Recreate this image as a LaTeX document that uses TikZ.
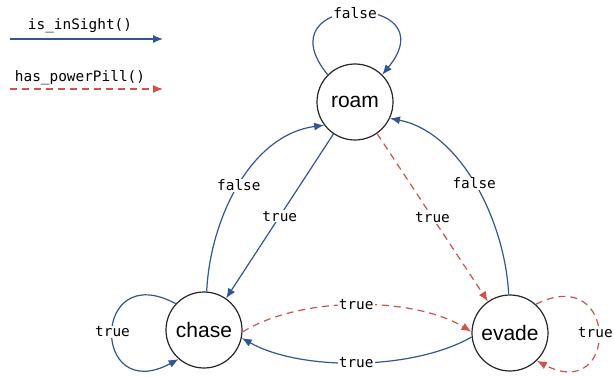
\documentclass[tikz,border=0pt]{standalone}
\usepackage{fontspec}
\setmainfont{Liberation Sans}
\newfontfamily\codefont{DejaVu Sans Mono}
\usetikzlibrary{arrows.meta}
\definecolor{edgeblue}{RGB}{48,86,148}
\definecolor{edgered}{RGB}{208,82,72}
\tikzset{
  state/.style={circle, draw=black!85, line width=1.2pt, minimum size=76pt,
    inner sep=0pt, font=\fontsize{21}{21}\selectfont},
  sight/.style={draw=edgeblue, line width=1.2pt, -{Latex[length=10pt,width=8pt]}},
  pill/.style={draw=edgered, line width=1.2pt, dash pattern=on 7pt off 5pt,
    -{Latex[length=10pt,width=8pt]}},
  lbl/.style={fill=white, inner sep=1pt, font=\codefont\fontsize{14.4}{14.4}\selectfont},
  legendtext/.style={inner sep=0pt, font=\codefont\fontsize{14.4}{14.4}\selectfont}
}
\begin{document}
\begin{tikzpicture}[x=1pt, y=-1pt]
  \useasboundingbox (0,0) rectangle (614,377);

  % legend
  \node[legendtext] (lgsight) at (80,26) {is\_inSight()};
  \coordinate (lgsightA) at (10,39);
  \coordinate (lgsightB) at (163,39);
  \draw[sight] (lgsightA) -- (lgsightB);
  \node[legendtext] (lgpill) at (80,78) {has\_powerPill()};
  \coordinate (lgpillA) at (10,89);
  \coordinate (lgpillB) at (163,89);
  \draw[pill] (lgpillA) -- (lgpillB);

  % states
  \node[state] (roam)  at (355,102) {roam};
  \node[state] (chase) at (204,330) {chase};
  \node[state] (evade) at (510,333) {evade};

  % self loops
  \draw[sight] (roam.135) .. controls (260,-8) and (450,-8) .. node[lbl] {false} (roam.45);
  \draw[sight] (chase.137) .. controls (91,258) and (91,406) .. node[lbl] {true} (chase.229);
  \draw[pill] (evade.48) .. controls (619,262) and (619,404) .. node[lbl, xshift=-3pt] {true} (evade.-46);

  % transitions between states
  \draw[sight] (chase.86) .. controls (210,220) and (250,135) .. node[lbl] {false} (roam.217);
  \draw[sight] (evade.92) .. controls (505,220) and (460,132) .. node[lbl] {false} (roam.-25);
  \draw[sight] (roam.236) -- node[lbl] {true} (chase.55);
  \draw[pill] (roam.305) -- node[lbl] {true} (evade.125);
  \draw[pill] (chase.-3) .. controls (300,296) and (412,296) .. node[lbl] {true} (evade.178);
  \draw[sight] (evade.186) .. controls (412,371) and (300,371) .. node[lbl] {true} (chase.-12);
\end{tikzpicture}
\end{document}
